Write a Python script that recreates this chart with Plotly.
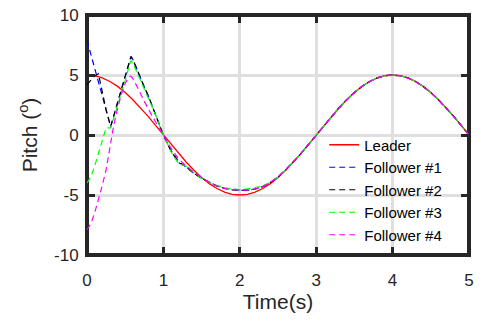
import plotly.graph_objects as go

# ---- data ----
time_leader = [round(0.1 * i, 1) for i in range(51)]
pitch_leader = [5.00, 4.94, 4.76, 4.46, 4.05, 3.54, 2.94, 2.27, 1.55, 0.78,
                0.00, -0.78, -1.55, -2.27, -2.94, -3.54, -4.05, -4.46, -4.76, -4.94,
                -5.00, -4.94, -4.76, -4.46, -4.05, -3.54, -2.94, -2.27, -1.55, -0.78,
                0.00, 0.78, 1.55, 2.27, 2.94, 3.54, 4.05, 4.46, 4.76, 4.94,
                5.00, 4.94, 4.76, 4.46, 4.05, 3.54, 2.94, 2.27, 1.55, 0.78, 0.00]

time_follower = [0, 0.05, 0.1, 0.15, 0.2, 0.25, 0.31, 0.35, 0.4, 0.45, 0.5, 0.55, 0.575,
                 0.6, 0.65, 0.7, 0.75, 0.8, 0.85, 0.9, 0.95, 1.0,
                 1.1, 1.2, 1.3, 1.4, 1.5, 1.6, 1.7, 1.8, 1.9, 2.0,
                 2.1, 2.2, 2.3, 2.4, 2.5, 2.6, 2.7, 2.8, 2.9, 3.0,
                 3.1, 3.2, 3.3, 3.4, 3.5, 3.6, 3.7, 3.8, 3.9, 4.0,
                 4.1, 4.2, 4.3, 4.4, 4.5, 4.6, 4.7, 4.8, 4.9, 5.0]

tail = [-0.78, 0.00, 0.78, 1.55, 2.27, 2.94, 3.54, 4.05, 4.46, 4.76, 4.94,
        5.00, 4.94, 4.76, 4.46, 4.05, 3.54, 2.94, 2.27, 1.55, 0.78, 0.00]

pitch_f1 = [7.9, 6.75, 5.6, 4.4, 3.2, 2.0, 0.7, 1.6, 2.7, 3.8, 4.9, 6.0, 6.5,
            6.3, 5.5, 4.75, 4.0, 3.3, 2.5, 1.7, 0.85, 0.0,
            -1.3, -2.2, -2.7, -3.2, -3.6, -3.95, -4.25, -4.45, -4.55, -4.6,
            -4.6, -4.5, -4.3, -3.95, -3.5, -2.92, -2.26, -1.55] + tail
pitch_f2 = [4.2, 4.6, 4.9, 5.1, 3.6, 2.1, 0.7, 1.6, 2.7, 3.8, 4.9, 6.0, 6.55,
            6.3, 5.5, 4.75, 4.0, 3.3, 2.5, 1.7, 0.85, 0.0,
            -1.35, -2.3, -2.65, -3.2, -3.6, -3.95, -4.25, -4.45, -4.57, -4.62,
            -4.6, -4.5, -4.3, -3.95, -3.5, -2.92, -2.26, -1.55] + tail
pitch_f3 = [-4.0, -3.5, -2.6, -1.5, -0.4, 0.6, 0.6, 1.4, 2.45, 3.5, 4.55, 5.7, 6.2,
            6.0, 5.3, 4.6, 3.9, 3.2, 2.45, 1.65, 0.8, 0.0,
            -1.4, -2.4, -2.6, -3.15, -3.6, -3.95, -4.2, -4.4, -4.5, -4.55,
            -4.5, -4.4, -4.25, -3.95, -3.5, -2.92, -2.26, -1.55] + tail
pitch_f4 = [-7.9, -7.4, -6.5, -5.4, -4.2, -2.9, -0.6, 0.8, 2.2, 3.4, 4.3, 4.85, 4.9,
            4.7, 4.1, 3.4, 2.8, 2.2, 1.6, 1.05, 0.5, 0.0,
            -1.1, -2.0, -2.6, -3.1, -3.55, -3.95, -4.25, -4.45, -4.55, -4.6,
            -4.6, -4.5, -4.3, -3.95, -3.5, -2.92, -2.26, -1.55] + tail

series_names = ["Leader", "Follower #1", "Follower #2", "Follower #3", "Follower #4"]
x_ticks = [0, 1, 2, 3, 4, 5]
y_ticks = [-10, -5, 0, 5, 10]
x_range = [0, 5]
y_range = [-10, 10]

# ---- figure ----
FONT = "Liberation Sans, Arial, Helvetica, sans-serif"
DARK = "#262626"
GRID = "#dfdfdf"
DASH = "6px,4px"
CLEAR = "rgba(0,0,0,0)"

fig = go.Figure()
fig.add_trace(go.Scatter(x=time_leader, y=pitch_leader, mode="lines", name=series_names[0],
                         line=dict(color="#ff0000", width=1.3)))
for name, ys, col in zip(series_names[1:], [pitch_f1, pitch_f2, pitch_f3, pitch_f4],
                         ["#0000ff", "#000000", "#00ff00", "#ff00ff"]):
    fig.add_trace(go.Scatter(x=time_follower, y=ys, mode="lines", name=name,
                             line=dict(color=col, width=1.2, dash=DASH), cliponaxis=False))
# empty trace that makes the tick-mark overlay axes render
fig.add_trace(go.Scatter(x=[], y=[], xaxis="x2", yaxis="y2", mode="lines",
                         showlegend=False, hoverinfo="skip"))

# main axes: grid + labels (transparent outside ticks only to offset labels)
main_common = dict(showgrid=True, gridcolor=GRID, gridwidth=3, zeroline=False,
                   showline=False, ticks="outside", tickcolor=CLEAR, tickwidth=1,
                   tickfont=dict(family=FONT, size=17, color=DARK))
# overlay axes: dark inward tick marks on all four sides
tick_common = dict(showgrid=False, zeroline=False, showline=False, showticklabels=False,
                   ticks="inside", ticklen=8, tickwidth=3, tickcolor=DARK, mirror="ticks")

fig.update_layout(
    width=481, height=322,
    margin=dict(l=87, r=12, t=15, b=67, autoexpand=False),
    paper_bgcolor="white", plot_bgcolor="white",
    font=dict(family=FONT, color=DARK),
    showlegend=True,
    legend=dict(x=0.621, y=0.527, xanchor="left", yanchor="top",
                bgcolor=CLEAR, borderwidth=0,
                font=dict(family=FONT, size=15, color="#000000"),
                tracegroupgap=0, itemwidth=30),
    xaxis=dict(range=x_range, tickvals=x_ticks, ticktext=[str(v) for v in x_ticks],
               ticklen=10,
               title=dict(text="Time(s)", font=dict(family=FONT, size=21, color=DARK), standoff=1),
               **main_common),
    yaxis=dict(range=y_range, tickvals=y_ticks, ticktext=[str(v) for v in y_ticks],
               ticklen=4,
               title=dict(text="Pitch (<sup>o</sup>)", font=dict(family=FONT, size=21, color=DARK), standoff=10),
               **main_common),
    xaxis2=dict(overlaying="x", anchor="y2", range=x_range, tickvals=x_ticks, **tick_common),
    yaxis2=dict(overlaying="y", anchor="x2", range=y_range, tickvals=y_ticks, **tick_common),
    shapes=[dict(type="rect", xref="paper", yref="paper", x0=0, x1=1, y0=0, y1=1,
                 line=dict(color=DARK, width=4), layer="between")],
)

fig.write_html("out.html",
               config={"displayModeBar": False, "staticPlot": True},
               post_script="document.body.style.margin='0';document.body.style.overflow='hidden';")
